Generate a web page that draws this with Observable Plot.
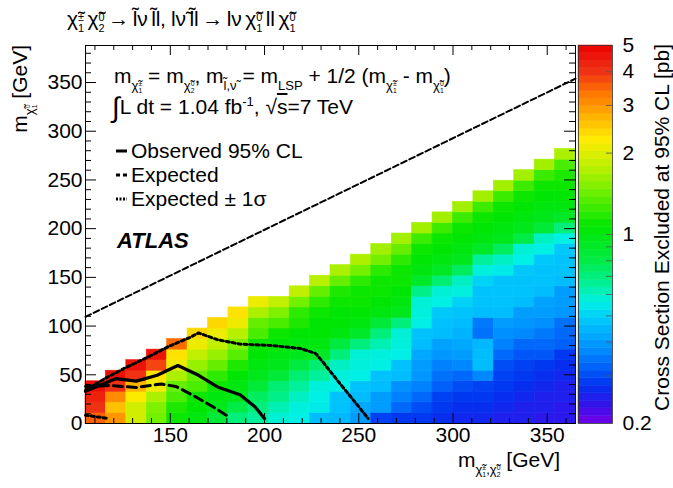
<!DOCTYPE html>
<html><head><meta charset="utf-8">
<script src="https://cdn.jsdelivr.net/npm/d3@7"></script>
<script src="https://cdn.jsdelivr.net/npm/@observablehq/plot@0.6"></script>
<style>
body{margin:0;background:#fff;}
#wrap{position:relative;width:673px;height:488px;overflow:hidden;font-family:"Liberation Sans",Arial,Helvetica,sans-serif;color:#000;}
#wrap svg{position:absolute;left:0;top:0;}
.t{position:absolute;white-space:nowrap;font-size:21px;line-height:21px;}
.st{display:inline-flex;flex-direction:column;font-size:0.52em;line-height:1.0;vertical-align:0.45em;text-align:left;margin-left:0.02em;}
.st span{display:block;height:1em;}
sub.s{font-size:0.62em;vertical-align:-0.5em;line-height:0;}
sup.u{font-size:0.62em;vertical-align:0.6em;line-height:0;}
</style></head>
<body><div id="wrap"></div>
<script>
// ---- data ----
const xMin = 105, xMax = 365, yMax = 388;
const binWidth = 260 / 24; // GeV, square bins
// cross-section limit (pb) per mass column, rows from mLSP = 0 upward
const cellColumns = [
  [3.5, 4.0, 4.3, 4.7],
  [3.0, 2.6, 3.1, 4.0, 4.7],
  [1.9, 1.9, 2.2, 2.7, 4.0, 4.6],
  [1.45, 1.5, 1.7, 2.1, 2.3, 3.8, 4.6],
  [1.1, 1.15, 1.3, 1.4, 1.7, 2.1, 2.3, 3.4],
  [1.0, 1.05, 1.1, 1.3, 1.4, 1.6, 1.8, 2.1, 2.4],
  [0.85, 0.95, 1.0, 1.1, 1.2, 1.4, 1.6, 1.8, 2.1, 2.4],
  [0.7, 0.8, 0.95, 1.0, 1.05, 1.15, 1.35, 1.5, 1.75, 2.1, 2.3],
  [0.65, 0.7, 0.75, 0.85, 0.95, 1.0, 1.05, 1.1, 1.3, 1.4, 1.7, 2.1],
  [0.58, 0.62, 0.68, 0.72, 0.85, 0.95, 1.0, 1.05, 1.1, 1.3, 1.5, 1.8],
  [0.56, 0.57, 0.6, 0.65, 0.72, 0.82, 0.95, 1.0, 1.05, 1.15, 1.2, 1.45, 1.8],
  [0.46, 0.55, 0.56, 0.57, 0.65, 0.72, 0.92, 1.0, 1.05, 1.05, 1.1, 1.2, 1.4, 1.75],
  [0.45, 0.47, 0.47, 0.56, 0.57, 0.6, 0.7, 0.82, 1.0, 1.05, 1.05, 1.1, 1.15, 1.4, 1.7],
  [0.4, 0.42, 0.46, 0.47, 0.56, 0.57, 0.58, 0.7, 0.9, 1.0, 1.05, 1.1, 1.1, 1.2, 1.45, 1.7],
  [0.29, 0.4, 0.4, 0.46, 0.47, 0.56, 0.57, 0.62, 0.7, 0.85, 1.0, 1.05, 1.1, 1.1, 1.2, 1.45, 1.65],
  [0.28, 0.33, 0.36, 0.38, 0.46, 0.47, 0.56, 0.57, 0.58, 0.7, 0.95, 1.0, 1.05, 1.1, 1.1, 1.2, 1.4, 1.65],
  [0.28, 0.3, 0.33, 0.36, 0.39, 0.4, 0.42, 0.46, 0.47, 0.56, 0.57, 0.58, 0.68, 0.9, 1.0, 1.05, 1.1, 1.25, 1.65],
  [0.27, 0.28, 0.29, 0.32, 0.34, 0.36, 0.39, 0.41, 0.46, 0.47, 0.48, 0.56, 0.58, 0.72, 0.92, 1.0, 1.05, 1.1, 1.25, 1.65],
  [0.26, 0.27, 0.28, 0.3, 0.33, 0.37, 0.4, 0.42, 0.44, 0.46, 0.47, 0.5, 0.57, 0.6, 0.75, 0.95, 1.0, 1.05, 1.1, 1.25, 1.65],
  [0.26, 0.27, 0.28, 0.29, 0.37, 0.46, 0.46, 0.45, 0.34, 0.35, 0.46, 0.47, 0.47, 0.5, 0.57, 0.65, 0.9, 1.0, 1.05, 1.1, 1.25, 1.65],
  [0.25, 0.26, 0.27, 0.28, 0.29, 0.3, 0.33, 0.36, 0.38, 0.4, 0.46, 0.47, 0.47, 0.47, 0.55, 0.6, 0.75, 0.95, 1.0, 1.05, 1.1, 1.25, 1.65],
  [0.25, 0.25, 0.26, 0.27, 0.28, 0.29, 0.31, 0.33, 0.37, 0.39, 0.4, 0.46, 0.47, 0.47, 0.48, 0.56, 0.58, 0.8, 0.95, 1.0, 1.05, 1.1, 1.25, 1.65],
  [0.24, 0.25, 0.25, 0.26, 0.27, 0.28, 0.31, 0.33, 0.35, 0.38, 0.4, 0.41, 0.46, 0.47, 0.47, 0.48, 0.56, 0.6, 0.85, 0.95, 1.0, 1.05, 1.1, 1.25, 1.65],
  [0.24, 0.24, 0.25, 0.25, 0.26, 0.27, 0.28, 0.32, 0.33, 0.34, 0.39, 0.4, 0.4, 0.46, 0.47, 0.47, 0.48, 0.56, 0.7, 0.9, 1.0, 1.05, 1.1, 1.15, 1.3, 1.7]
];
const diagonalX = [105, 365];
const diagonalY = [109.5, 354];
const observedX = [105, 121, 132, 143, 154, 165, 175, 187, 195, 200];
const observedY = [33, 46, 43.5, 49.5, 59.5, 49.5, 37.5, 29.5, 17, 5];
const expectedX = [105, 118, 132, 145, 153, 162, 171, 181];
const expectedY = [38, 39, 37, 40.5, 38, 29, 19, 7];
const plusSigmaX = [105, 116, 127, 138, 149, 160, 165, 175, 187, 204, 219, 227, 231, 240, 248, 255];
const plusSigmaY = [34, 47, 58, 68, 79, 88, 93, 86, 81.5, 80, 77, 72, 63, 41, 22, 5];
const minusSigmaX = [105, 116];
const minusSigmaY = [8.5, 5.5];
const xTicksMajor = [150, 200, 250, 300, 350];
const yTicksMajor = [0, 50, 100, 150, 200, 250, 300, 350];
const cbTickValues = [0.2, 1, 2, 3, 4, 5];
const cbMinorValues = [0.3, 0.4, 0.5, 0.6, 0.7, 0.8, 0.9, 1, 2, 3, 4];

// ROOT-like rainbow palette (t from 0 = 0.2 pb to 1 = 5 pb, log)
const paletteStops = [
  [0.00, [115, 0, 230]], [0.05, [50, 20, 235]], [0.10, [0, 50, 240]], [0.15, [0, 100, 250]],
  [0.20, [0, 145, 255]], [0.26, [0, 190, 255]], [0.32, [0, 240, 230]], [0.37, [0, 240, 150]],
  [0.43, [0, 235, 70]], [0.52, [0, 230, 0]], [0.62, [120, 240, 0]], [0.68, [190, 240, 0]],
  [0.75, [255, 235, 0]], [0.815, [255, 175, 0]], [0.87, [255, 120, 0]], [0.93, [240, 50, 20]],
  [1.00, [235, 0, 0]]
];
function palette(t) {
  t = Math.max(0, Math.min(1, t));
  for (let k = 1; k < paletteStops.length; k++) {
    const [t1, c1] = paletteStops[k];
    if (t <= t1) {
      const [t0, c0] = paletteStops[k - 1];
      const u = (t - t0) / (t1 - t0);
      return `rgb(${c0.map((c, m) => Math.round(c + (c1[m] - c) * u)).join(",")})`;
    }
  }
  return "rgb(235,0,0)";
}

// ---- derived tables ----
const cells = cellColumns.flatMap((col, i) => col.map((v, j) => ({
  x1: xMin + i * binWidth, x2: xMin + (i + 1) * binWidth, y1: j * binWidth, y2: (j + 1) * binWidth, v
})));
const pts = (X, Y) => X.map((x, i) => ({x, y: Y[i]}));
const xTicksMinor = d3.range(110, 365, 10).filter(d => d % 50 !== 0);
const yTicksMinor = d3.range(10, 388, 10).filter(d => d % 50 !== 0);
const nBands = 50;
const cbBands = d3.range(nBands).map(i => ({
  v1: 0.2 * Math.pow(25, i / nBands), v2: 0.2 * Math.pow(25, (i + 1) / nBands), vm: 0.2 * Math.pow(25, (i + 0.5) / nBands)
}));

const FONT = '"Liberation Sans", Arial, Helvetica, sans-serif';
const FW = 490, FH = 378;
const colorOpts = {type: "log", domain: [0.2, 5], interpolate: palette, clamp: true};

const main = Plot.plot({
  width: 673, height: 488,
  marginLeft: 85, marginRight: 98, marginTop: 45, marginBottom: 65,
  style: {fontFamily: FONT, fontSize: "21px", color: "black", background: "transparent", overflow: "visible"},
  x: {domain: [xMin, xMax], ticks: xTicksMajor, tickSize: 0, tickPadding: 4, label: null},
  y: {domain: [0, yMax], ticks: yTicksMajor, tickSize: 0, tickPadding: 3, label: null},
  color: colorOpts,
  marks: [
    Plot.rect(cells, {x1: "x1", x2: "x2", y1: "y1", y2: "y2", fill: "v", stroke: "v", strokeWidth: 0.6}),
    Plot.line(pts(diagonalX, diagonalY), {x: "x", y: "y", stroke: "black", strokeWidth: 2, strokeDasharray: "6,3"}),
    Plot.line(pts(plusSigmaX, plusSigmaY), {x: "x", y: "y", stroke: "black", strokeWidth: 3, strokeDasharray: "3,3"}),
    Plot.line(pts(minusSigmaX, minusSigmaY), {x: "x", y: "y", stroke: "black", strokeWidth: 3, strokeDasharray: "3,3"}),
    Plot.line(pts(expectedX, expectedY), {x: "x", y: "y", stroke: "black", strokeWidth: 3, strokeDasharray: "9,5"}),
    Plot.line(pts(observedX, observedY), {x: "x", y: "y", stroke: "black", strokeWidth: 3.2}),
    Plot.frame({stroke: "black", strokeWidth: 1}),
    Plot.tickX(xTicksMajor, {x: d => d, insetTop: FH - 10, stroke: "black"}),
    Plot.tickX(xTicksMajor, {x: d => d, insetBottom: FH - 10, stroke: "black"}),
    Plot.tickX(xTicksMinor, {x: d => d, insetTop: FH - 5, stroke: "black"}),
    Plot.tickX(xTicksMinor, {x: d => d, insetBottom: FH - 5, stroke: "black"}),
    Plot.tickY(yTicksMajor, {y: d => d, insetRight: FW - 11, stroke: "black"}),
    Plot.tickY(yTicksMajor, {y: d => d, insetLeft: FW - 11, stroke: "black"}),
    Plot.tickY(yTicksMinor, {y: d => d, insetRight: FW - 6, stroke: "black"}),
    Plot.tickY(yTicksMinor, {y: d => d, insetLeft: FW - 6, stroke: "black"})
  ]
});

const cbar = Plot.plot({
  width: 673, height: 488,
  marginLeft: 578, marginRight: 61, marginTop: 45, marginBottom: 65,
  style: {fontFamily: FONT, fontSize: "21px", color: "black", background: "transparent", overflow: "visible"},
  x: {domain: [0, 1], axis: null},
  y: {type: "log", domain: [0.2, 5], axis: "right", ticks: cbTickValues, tickFormat: d => String(d), tickSize: 0, tickPadding: 10, label: null},
  color: colorOpts,
  marks: [
    Plot.rect(cbBands, {y1: "v1", y2: "v2", fill: "vm", stroke: "vm", strokeWidth: 0.5}),
    Plot.tickY(cbMinorValues, {y: d => d, insetLeft: 28, stroke: "#555", strokeWidth: 0.8}),
    Plot.frame({stroke: "#333", strokeWidth: 0.8})
  ]
});

const wrap = document.getElementById("wrap");
wrap.append(main, cbar);

const chi = (sup, sub) => `χ&#x0303;<span class="st"><span>${sup}</span><span>${sub}</span></span>`;
const texts = [
  {style: "left:67px;top:8px;font-size:21px;letter-spacing:-0.3px;", html: `${chi("±", "1")}&thinsp;${chi("0", "2")}&thinsp;→&thinsp;l&#x0303;ν&thinsp;l&#x0303;l, lν&#x0303;&thinsp;l&#x0303;l&thinsp;→&thinsp;lν&thinsp;${chi("0", "1")}&thinsp;ll&thinsp;${chi("0", "1")}`},
  {style: "left:114px;top:65px;", html: `m<sub class="s">${chi("±", "1")}</sub> = m<sub class="s">${chi("0", "2")}</sub>, m<sub class="s">l&#x0303;,ν&#x0303;</sub> = m<sub class="s">LSP</sub> + 1/2 (m<sub class="s">${chi("±", "1")}</sub> - m<sub class="s">${chi("0", "1")}</sub>)`},
  {style: "left:112px;top:96px;", html: `<span style="font-size:1.35em;vertical-align:-0.12em">∫</span>L dt = 1.04 fb<sup class="u">-1</sup>, √<span style="text-decoration:overline">s</span>=7 TeV`},
  {style: "left:131px;top:140px;", html: `Observed 95% CL`},
  {style: "left:131px;top:164px;", html: `Expected`},
  {style: "left:131px;top:188px;", html: `Expected ± 1σ`},
  {style: "left:117px;top:230px;font-size:22px;line-height:22px;font-weight:bold;font-style:italic;", html: `ATLAS`},
  {style: "right:113px;top:449px;", html: `m<sub class="s">${chi("±", "1")},${chi("0", "2")}</sub> [GeV]`},
  {style: "left:9px;top:345px;width:300px;text-align:right;transform-origin:0 0;transform:rotate(-90deg);", html: `m<sub class="s">${chi("0", "1")}</sub> [GeV]`},
  {style: "left:651px;top:444px;width:400px;text-align:right;transform-origin:0 0;transform:rotate(-90deg);", html: `Cross Section Excluded at 95% CL [pb]`}
];
for (const t of texts) {
  const d = document.createElement("div");
  d.className = "t";
  d.setAttribute("style", t.style);
  d.innerHTML = t.html;
  wrap.appendChild(d);
}
// legend line samples
const legendSamples = [
  {top: 150.5, dash: null},
  {top: 174.5, dash: "4,3"},
  {top: 198.5, dash: "2,1.5"}
];
for (const s of legendSamples) {
  const svg = d3.create("svg").attr("width", 14).attr("height", 6)
    .style("left", "115px").style("top", (s.top - 3) + "px");
  svg.append("line").attr("x1", 1).attr("x2", 12).attr("y1", 3).attr("y2", 3)
    .attr("stroke", "black").attr("stroke-width", 3).attr("stroke-dasharray", s.dash);
  wrap.appendChild(svg.node());
}
</script></body></html>
